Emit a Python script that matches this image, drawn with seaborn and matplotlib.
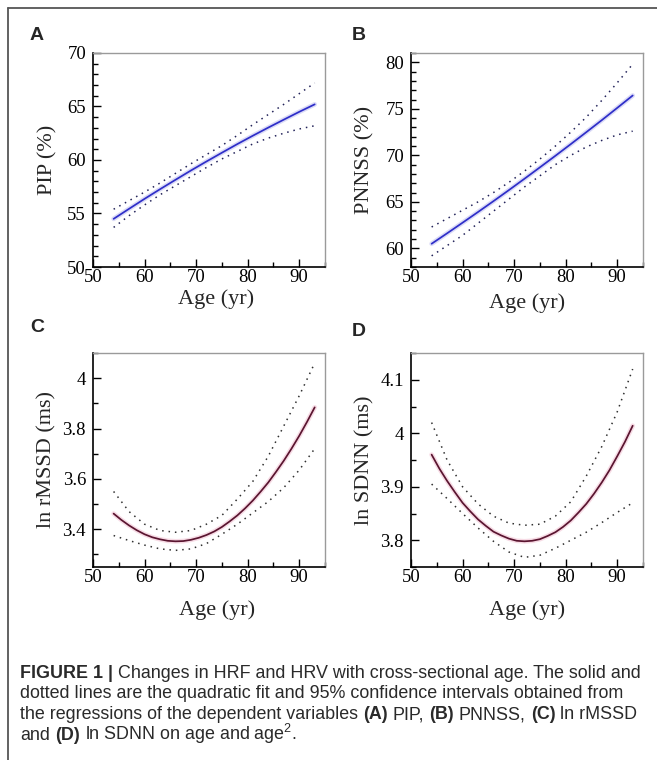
import matplotlib
matplotlib.use("Agg")
import matplotlib.pyplot as plt
from matplotlib.ticker import MultipleLocator, FuncFormatter
from matplotlib.lines import Line2D
import pandas as pd
import seaborn as sns

# ---------------- data ----------------
age = [54, 57, 60, 63, 66, 69, 72, 75, 78, 81, 84, 87, 90, 93]
age_fine = [54, 55.5, 57, 58.5, 60, 61.5, 63, 64.5, 66, 67.5, 69, 70.5, 72, 73.5,
            75, 76.5, 78, 79.5, 81, 82.5, 84, 85.5, 87, 88.5, 90, 91.5, 93]

pip_fit = [54.50, 55.44, 56.37, 57.27, 58.15, 59.02, 59.86, 60.68, 61.49, 62.27, 63.03, 63.77, 64.50, 65.20]
pip_upper = [55.40, 56.20, 57.00, 57.85, 58.75, 59.65, 60.50, 61.35, 62.30, 63.30, 64.25, 65.20, 66.20, 67.20]
pip_lower = [53.70, 54.80, 55.80, 56.75, 57.60, 58.45, 59.30, 60.10, 60.80, 61.50, 62.05, 62.50, 62.90, 63.20]

pnnss_fit = [60.50, 61.62, 62.76, 63.91, 65.08, 66.27, 67.48, 68.71, 69.95, 71.21, 72.49, 73.78, 75.10, 76.43]
pnnss_upper = [62.30, 63.20, 64.10, 65.00, 66.00, 67.10, 68.30, 69.60, 71.00, 72.50, 74.10, 75.90, 77.80, 79.80]
pnnss_lower = [59.20, 60.30, 61.40, 62.70, 64.00, 65.30, 66.60, 67.80, 69.00, 70.00, 70.90, 71.60, 72.20, 72.60]

# fits of C and D are read at 1.5-year steps (their curvature is strong)
rmssd_fit = [3.462, 3.437, 3.415, 3.396, 3.380, 3.368, 3.360, 3.354, 3.352, 3.353, 3.358, 3.366, 3.377, 3.391,
             3.409, 3.431, 3.455, 3.483, 3.514, 3.549, 3.586, 3.628, 3.672, 3.720, 3.771, 3.826, 3.884]
rmssd_upper = [3.550, 3.470, 3.420, 3.395, 3.388, 3.395, 3.420, 3.455, 3.520, 3.590, 3.690, 3.810, 3.930, 4.060]
rmssd_lower = [3.375, 3.355, 3.337, 3.322, 3.316, 3.322, 3.343, 3.380, 3.420, 3.465, 3.510, 3.565, 3.635, 3.720]

sdnn_fit = [3.960, 3.934, 3.911, 3.890, 3.870, 3.854, 3.839, 3.827, 3.816, 3.809, 3.803, 3.799, 3.798, 3.799,
            3.802, 3.808, 3.815, 3.825, 3.837, 3.852, 3.868, 3.887, 3.908, 3.931, 3.957, 3.984, 4.014]
sdnn_upper = [4.020, 3.950, 3.900, 3.868, 3.845, 3.832, 3.828, 3.830, 3.845, 3.872, 3.920, 3.975, 4.040, 4.120]
sdnn_lower = [3.905, 3.878, 3.850, 3.823, 3.798, 3.778, 3.768, 3.772, 3.785, 3.800, 3.815, 3.833, 3.852, 3.870]

panel_letters = ["A", "B", "C", "D"]
y_labels = ["PIP (%)", "PNNSS (%)", "ln rMSSD (ms)", "ln SDNN (ms)"]
x_label = "Age (yr)"
x_ticks = [50, 60, 70, 80, 90]

caption_lines = [
    [("FIGURE 1 |", True), (" Changes in HRF and HRV with cross-sectional age. The solid and", False)],
    [("dotted lines are the quadratic fit and 95% confidence intervals obtained from", False)],
    [("the regressions of the dependent variables ", False), ("(A)", True), (" PIP, ", False),
     ("(B)", True), (" PNNSS, ", False), ("(C)", True), (" ln rMSSD", False)],
    [("and ", False), ("(D)", True), (" ln SDNN on age and age$^2$.", False)],
]

# ---------------- style ----------------
sns.set_style("ticks")
plt.rcParams['font.family'] = ['Liberation Serif', 'DejaVu Serif']
plt.rcParams['mathtext.fontset'] = 'custom'
plt.rcParams['mathtext.rm'] = 'Liberation Sans'

W, H = 657, 760
fig = plt.figure(figsize=(W / 100, H / 100), dpi=100)
fig.patch.set_facecolor("white")


def px_axes(l, t, r, b):
    return [l / W, 1 - b / H, (r - l) / W, (b - t) / H]


panels = [
    dict(box=(93, 53, 325, 267), x=age, fit=pip_fit, up=pip_upper, lo=pip_lower, ylim=(50, 70),
         major=5, minor=1, color="#2e2ec8", halo="#c4c4f2", dot="#23235a",
         letter=(30, 35), ylab_x=48, xlab_y=299, xlab_x=216),
    dict(box=(411, 53, 643, 267), x=age, fit=pnnss_fit, up=pnnss_upper, lo=pnnss_lower, ylim=(58, 81),
         major=5, minor=1, color="#2e2ec8", halo="#c4c4f2", dot="#23235a",
         letter=(352, 35), ylab_x=365, xlab_y=303, xlab_x=527),
    dict(box=(93, 353, 325, 567), x=age_fine, fit=rmssd_fit, up=rmssd_upper, lo=rmssd_lower,
         ylim=(3.25, 4.1), major=0.2, minor=0.1, color="#5a1530", halo="#f2c4d4", dot="#303030",
         letter=(30, 328), ylab_x=47, xlab_y=610, xlab_x=217),
    dict(box=(411, 353, 643, 567), x=age_fine, fit=sdnn_fit, up=sdnn_upper, lo=sdnn_lower,
         ylim=(3.75, 4.15), major=0.1, minor=0.05, color="#5a1530", halo="#f2c4d4", dot="#303030",
         letter=(352, 331), ylab_x=365, xlab_y=610, xlab_x=527),
]

fmt = FuncFormatter(lambda v, p: "{:g}".format(round(v, 3)))

for i, p in enumerate(panels):
    l, t, r, b = p["box"]
    ax = fig.add_axes(px_axes(l, t, r, b))
    df_fit = pd.DataFrame({"age": p["x"], "fit": p["fit"]})
    df_ci = pd.DataFrame({"age": age, "up": p["up"], "lo": p["lo"]})
    sns.lineplot(data=df_fit, x="age", y="fit", ax=ax, color=p["halo"], lw=3.4, alpha=0.6)
    sns.lineplot(data=df_fit, x="age", y="fit", ax=ax, color=p["color"], lw=1.25)
    sns.lineplot(data=df_ci, x="age", y="up", ax=ax, color=p["dot"], lw=1.1, linestyle=(0, (1, 3.2)))
    sns.lineplot(data=df_ci, x="age", y="lo", ax=ax, color=p["dot"], lw=1.1, linestyle=(0, (1, 3.2)))

    ax.set_xlim(50, 95)
    ax.set_ylim(*p["ylim"])
    ax.set_xticks(x_ticks)
    ax.xaxis.set_minor_locator(MultipleLocator(5))
    ax.yaxis.set_major_locator(MultipleLocator(p["major"]))
    ax.yaxis.set_minor_locator(MultipleLocator(p["minor"]))
    ax.yaxis.set_major_formatter(fmt)
    ax.tick_params(which="both", direction="in", top=False, right=False, width=1, colors="black",
                   labelsize=13.5)
    ax.tick_params(axis="x", pad=1.5)
    ax.tick_params(axis="y", pad=5)
    ax.tick_params(which="major", length=6)
    ax.tick_params(which="minor", length=3.5)
    for s in ("left", "bottom"):
        ax.spines[s].set_color("black")
        ax.spines[s].set_linewidth(1.2)
    for s in ("top", "right"):
        ax.spines[s].set_visible(True)
        ax.spines[s].set_color("#9a9a9a")
        ax.spines[s].set_linewidth(1.0)

    ax.set_xlabel(x_label, fontsize=16, va="center")
    ax.xaxis.set_label_coords((p["xlab_x"] - l) / (r - l), (b - p["xlab_y"]) / (b - t))
    ax.set_ylabel(y_labels[i], fontsize=16, va="center")
    ax.yaxis.set_label_coords((p["ylab_x"] - l) / (r - l), 0.5)

    lx, ly = p["letter"]
    fig.text(lx / W, 1 - ly / H, panel_letters[i], fontsize=14, fontweight="bold",
             family="Liberation Sans", ha="left", va="center")

# frame lines (top and left of the figure box)
fig.add_artist(Line2D([8 / W, 1.0], [1 - 8 / H, 1 - 8 / H], transform=fig.transFigure,
                      color="#555555", lw=1.3))
fig.add_artist(Line2D([8 / W, 8 / W], [0.0, 1 - 8 / H], transform=fig.transFigure,
                      color="#555555", lw=1.3))

# caption, run by run
renderer = fig.canvas.get_renderer()
cap_size = 12.9
cap_family = "Liberation Sans"
baselines = [678, 698.5, 719, 739.5]


def text_width(s, bold):
    tt = fig.text(0, 0, s, fontsize=cap_size, family=cap_family,
                  fontweight="bold" if bold else "normal")
    w = tt.get_window_extent(renderer).width
    tt.remove()
    return w


space_w = text_width("a a", False) - text_width("aa", False)

for line, yb in zip(caption_lines, baselines):
    x = 20.0
    for s, bold in line:
        lead = len(s) - len(s.lstrip(" "))
        trail = len(s) - len(s.rstrip(" "))
        core = s.strip(" ")
        x += lead * space_w
        tt = fig.text(x / W, 1 - yb / H, core, fontsize=cap_size, family=cap_family,
                      fontweight="bold" if bold else "normal", ha="left", va="baseline",
                      color="#2a2a2a")
        x += tt.get_window_extent(renderer).width
        x += trail * space_w

fig.savefig("out.png", dpi=100, facecolor="white")
